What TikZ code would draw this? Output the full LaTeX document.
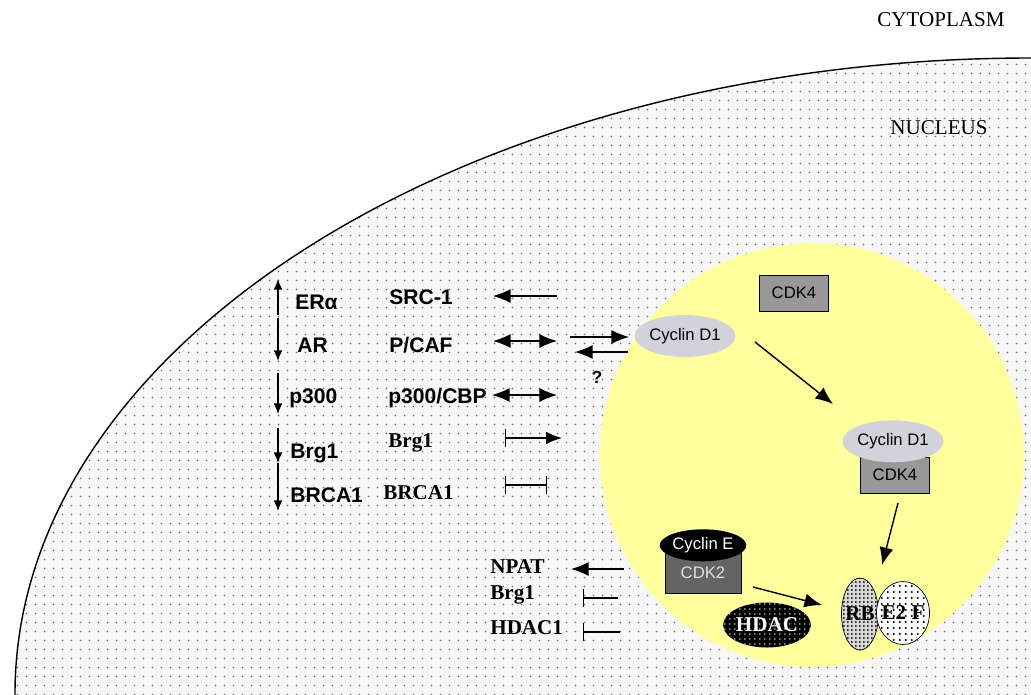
\documentclass[tikz,border=0pt]{standalone}
\usepackage{fontspec}
\setmainfont{Liberation Serif}
\setsansfont{Liberation Sans}
\usetikzlibrary{arrows.meta, positioning, shapes.geometric, patterns.meta}

\definecolor{nucyellow}{RGB}{255,255,155}
\definecolor{cdkgray}{RGB}{152,152,152}
\definecolor{cdkdark}{RGB}{100,100,100}
\definecolor{cycgray}{RGB}{210,210,218}

\begin{document}
\begin{tikzpicture}[
  x=0.02cm, y=-0.02cm,
  factor/.style={font=\sffamily\bfseries\fontsize{12}{14}\selectfont, inner sep=0pt, anchor=west},
  rfactor/.style={font=\bfseries\fontsize{12}{14}\selectfont, inner sep=0pt, anchor=west},
  compart/.style={font=\fontsize{12}{14}\selectfont, inner sep=0pt},
  kinase/.style={draw, rectangle, fill=cdkgray, minimum width=1.38cm, minimum height=0.72cm, inner sep=0pt, font=\sffamily\fontsize{9.5}{11}\selectfont},
  cyclin/.style={ellipse, fill=cycgray, minimum width=1.6cm, minimum height=0.84cm, inner sep=0pt, font=\sffamily\fontsize{9.5}{11}\selectfont},
  act/.style={-{Latex[length=10pt, width=8pt]}, line width=0.8pt},
  dact/.style={{Latex[length=10pt, width=8pt]}-{Latex[length=10pt, width=8pt]}, line width=0.8pt},
  vact/.style={-{Latex[length=6pt, width=5pt]}, line width=0.8pt},
  inh/.style={{Bar[width=10pt]}-, line width=0.7pt},
  pattact/.style={{Bar[width=10pt]}-{Latex[length=9pt, width=7pt]}, line width=0.7pt},
  inhinh/.style={{Bar[width=10pt]}-{Bar[width=10pt]}, line width=0.7pt}
]

\useasboundingbox (0,0) rectangle (1031,694);
\clip (0,0) rectangle (1031,694);

% Compartments
\path[fill=gray!6, postaction={pattern={Dots[radius=0.45pt, distance=0.18cm]}, pattern color=gray!80!black}]
  (1031,694) ellipse [x radius=1016, y radius=636];
\draw[line width=0.8pt] (1031,694) ellipse [x radius=1016, y radius=636];
\fill[nucyellow] (812,455) circle [radius=212];

\node[compart] (cyto) at (941,20) {CYTOPLASM};
\node[compart] (nuc) at (939,128) {NUCLEUS};

% Receptors and cofactors (left)
\node[factor] (era) at (295,302) {ERα};
\node[factor] (ar) at (297,345) {AR};
\node[factor] (pthree) at (289,398) {p300};
\node[factor] (brga) at (290,453) {Brg1};
\node[factor] (brcaa) at (290,495) {BRCA1};

\node[factor] (src) at (389,297) {SRC-1};
\node[factor] (pcaf) at (389,345) {P/CAF};
\node[factor] (cbp) at (388,398) {p300/CBP};
\node[rfactor] (brgb) at (388,443) {Brg1};
\node[rfactor] (brcab) at (383,493) {BRCA1};

% Vertical arrows
\coordinate (v0) at (278,279);
\coordinate (v1) at (278,315);
\coordinate (v2) at (278,318);
\coordinate (v3) at (278,361);
\coordinate (v4) at (278,373);
\coordinate (v5) at (278,414);
\coordinate (v6) at (278,428);
\coordinate (v7) at (278,463);
\coordinate (v8) at (278,511);
\draw[vact] (v1) -- (v0);
\draw[vact] (v2) -- (v3);
\draw[vact] (v4) -- (v5);
\draw[vact] (v6) -- (v7);
\draw[vact] (v7) -- (v8);

% Cofactor effects
\coordinate (srcL) at (493,296);
\coordinate (srcR) at (557,296);
\coordinate (pcafL) at (493,341);
\coordinate (pcafR) at (557,341);
\coordinate (cbpL) at (492,395);
\coordinate (cbpR) at (557,395);
\coordinate (brgL) at (505,438);
\coordinate (brgR) at (562,438);
\coordinate (brcaL) at (505,485);
\coordinate (brcaR) at (547,485);
\draw[act] (srcR) -- (srcL);
\draw[dact] (pcafL) -- (pcafR);
\draw[dact] (cbpL) -- (cbpR);
\draw[pattact] (brgL) -- (brgR);
\draw[inhinh] (brcaL) -- (brcaR);

% Cyclin D1 / CDK4
\node[kinase] (cdka) at (794,293) {CDK4};
\node[cyclin] (cycda) at (685,336) {Cyclin D1};
\node[kinase] (cdkb) at (895,475) {CDK4};
\node[cyclin, above=-0.12cm of cdkb, xshift=-0.04cm] (cycdb) {Cyclin D1};

\coordinate (toCycA) at (570,337);
\coordinate (toCycB) at (629,337);
\coordinate (frCycA) at (628,352);
\coordinate (frCycB) at (575,352);
\draw[act] (toCycA) -- (toCycB);
\draw[act] (frCycA) -- (frCycB);
\node[font=\sffamily\bfseries\fontsize{10}{12}\selectfont, inner sep=0pt] (qmark) at (597,377) {?};

\coordinate (bindA) at (755,342);
\coordinate (bindB) at (833,404);
\draw[act] (bindA) -- (bindB);

% Cyclin E / CDK2, HDAC, RB-E2F
\node[kinase, fill=cdkdark, text=gray!25, minimum width=1.52cm, minimum height=0.82cm] (cdktwo) at (703,573) {CDK2};
\node[cyclin, fill=black, text=white, minimum width=1.7cm, minimum height=0.64cm, above=-0.19cm of cdktwo] (cyce) {Cyclin E};
\node[ellipse, fill=black, minimum width=1.6cm, minimum height=0.9cm, inner sep=0pt,
      postaction={pattern={Dots[radius=0.45pt, distance=0.1cm]}, pattern color=white},
      text=white, font=\bfseries\fontsize{12}{14}\selectfont] (hdac) at (767,625) {HDAC};
\node[ellipse, draw, fill=gray!30, minimum width=0.74cm, minimum height=1.44cm, inner sep=0pt,
      postaction={pattern={Dots[radius=0.6pt, distance=0.08cm]}, pattern color=black}] (rb) at (860,614) {};
\node[ellipse, draw, fill=white, minimum width=1.06cm, minimum height=1.26cm, inner sep=0pt,
      postaction={pattern={Dots[radius=0.65pt, distance=0.12cm]}, pattern color=black}] (etwof) at (903,613) {};
\node[font=\bfseries\fontsize{12}{14}\selectfont, inner sep=0pt] (rbtxt) at (rb) {RB};
\node[font=\bfseries\fontsize{12}{14}\selectfont, inner sep=0pt] (etwoftxt) at (etwof) {E2 F};

\coordinate (phosA) at (898,503);
\coordinate (phosB) at (882,565);
\draw[act] (phosA) -- (phosB);
\coordinate (cdkeA) at (753,587);
\coordinate (cdkeB) at (822,605);
\draw[act] (cdkeA) -- (cdkeB);

% Cyclin E targets
\node[rfactor] (npat) at (490,567) {NPAT};
\node[rfactor] (brgc) at (490,595) {Brg1};
\node[rfactor] (hdacone) at (490,628) {HDAC1};
\coordinate (npatL) at (571,569);
\coordinate (npatR) at (624,569);
\coordinate (brgcL) at (583,598);
\coordinate (brgcR) at (618,598);
\coordinate (hdacL) at (583,632);
\coordinate (hdacR) at (620,632);
\draw[act] (npatR) -- (npatL);
\draw[inh] (brgcL) -- (brgcR);
\draw[inh] (hdacL) -- (hdacR);

\end{tikzpicture}
\end{document}
